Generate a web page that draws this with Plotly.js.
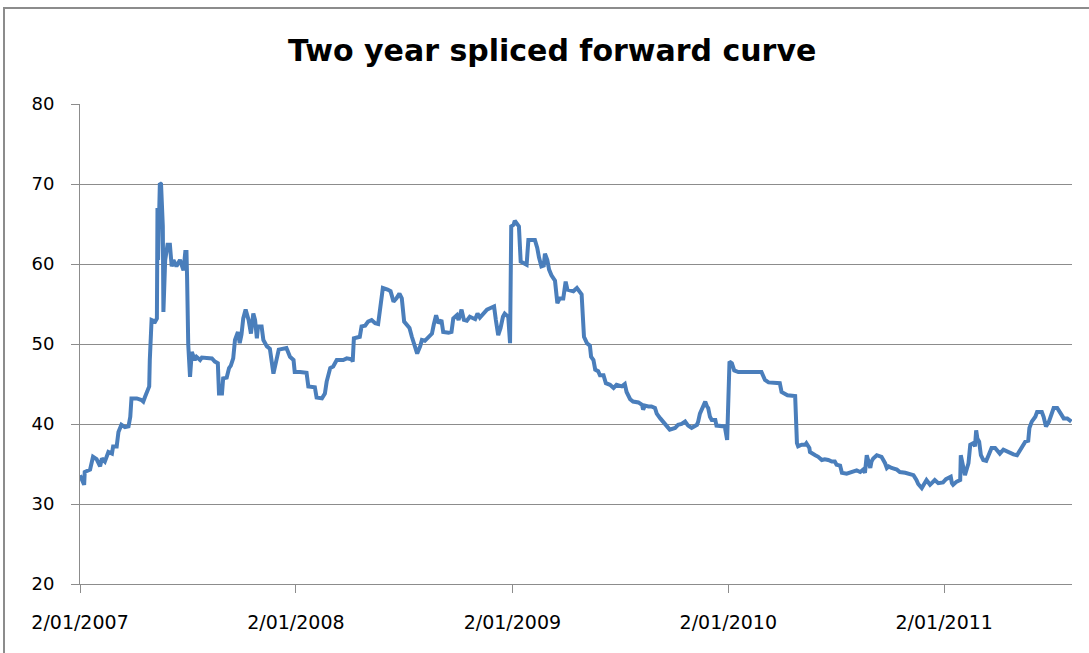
<!DOCTYPE html>
<html>
<head>
<meta charset="utf-8">
<script src="https://cdn.plot.ly/plotly-3.0.1.min.js"></script>
<style>
  html, body { margin: 0; padding: 0; background: #ffffff; }
  #wrap { position: relative; width: 1089px; height: 653px; overflow: hidden; }
  #frame { position: absolute; left: 3px; top: 7px; width: 1200px; height: 800px;
           border-left: 2px solid #8c8c8c; border-top: 2px solid #8c8c8c; pointer-events: none; }
  #chart { position: absolute; left: 0; top: 0; width: 1089px; height: 653px; }
</style>
</head>
<body>
<div id="wrap">
  <div id="chart"></div>
  <div id="frame"></div>
</div>
<script>
const dates = [
  "2007-01-02","2007-01-05","2007-01-09","2007-01-10","2007-01-19","2007-01-24","2007-01-30","2007-02-05","2007-02-08","2007-02-13",
  "2007-02-19","2007-02-25","2007-02-27","2007-03-05","2007-03-08","2007-03-13","2007-03-19","2007-03-25","2007-03-28","2007-03-30",
  "2007-04-08","2007-04-16","2007-04-19","2007-04-22","2007-04-26","2007-04-29","2007-04-30","2007-05-02","2007-05-03","2007-05-09",
  "2007-05-12","2007-05-13","2007-05-14","2007-05-17","2007-05-19","2007-05-22","2007-05-23","2007-05-26","2007-05-30","2007-06-03",
  "2007-06-06","2007-06-09","2007-06-14","2007-06-20","2007-06-23","2007-06-26","2007-06-29","2007-07-01","2007-07-02","2007-07-04",
  "2007-07-07","2007-07-10","2007-07-15","2007-07-18","2007-07-24","2007-07-27","2007-08-13","2007-08-18","2007-08-23","2007-08-25",
  "2007-08-30","2007-09-01","2007-09-07","2007-09-11","2007-09-14","2007-09-18","2007-09-21","2007-09-26","2007-09-29","2007-10-02",
  "2007-10-05","2007-10-09","2007-10-14","2007-10-18","2007-10-22","2007-10-25","2007-10-28","2007-10-30","2007-11-05","2007-11-08",
  "2007-11-14","2007-11-19","2007-11-25","2007-12-01","2007-12-04","2007-12-17","2007-12-23","2007-12-29","2007-12-31","2008-01-09",
  "2008-01-20","2008-01-23","2008-02-03","2008-02-06","2008-02-15","2008-02-20","2008-02-23","2008-02-29","2008-03-05","2008-03-11",
  "2008-03-22","2008-03-28","2008-04-05","2008-04-07","2008-04-09","2008-04-19","2008-04-22","2008-04-28","2008-05-03","2008-05-09",
  "2008-05-15","2008-05-20","2008-05-23","2008-05-28","2008-06-05","2008-06-10","2008-06-15","2008-06-20","2008-06-25","2008-06-29",
  "2008-07-03","2008-07-07","2008-07-12","2008-07-16","2008-07-21","2008-07-25","2008-07-30","2008-08-02","2008-08-07","2008-08-13",
  "2008-08-19","2008-08-22","2008-08-26","2008-08-30","2008-09-04","2008-09-07","2008-09-16","2008-09-21","2008-09-24","2008-09-30",
  "2008-10-03","2008-10-08","2008-10-12","2008-10-17","2008-10-22","2008-10-31","2008-11-04","2008-11-08","2008-11-13","2008-11-20",
  "2008-11-26","2008-12-02","2008-12-05","2008-12-09","2008-12-13","2008-12-17","2008-12-20","2008-12-26","2008-12-29","2008-12-31",
  "2009-01-04","2009-01-06","2009-01-13","2009-01-16","2009-01-26","2009-01-29","2009-02-09","2009-02-13","2009-02-16","2009-02-20",
  "2009-02-24","2009-02-26","2009-03-02","2009-03-05","2009-03-09","2009-03-13","2009-03-15","2009-03-19","2009-03-23","2009-03-29",
  "2009-04-02","2009-04-05","2009-04-15","2009-04-21","2009-04-26","2009-04-29","2009-05-03","2009-05-08","2009-05-13","2009-05-15",
  "2009-05-19","2009-05-22","2009-05-27","2009-05-30","2009-06-05","2009-06-09","2009-06-16","2009-06-22","2009-06-27","2009-07-06",
  "2009-07-11","2009-07-14","2009-07-20","2009-07-25","2009-08-03","2009-08-09","2009-08-11","2009-08-14","2009-08-20","2009-08-25",
  "2009-08-31","2009-09-03","2009-09-09","2009-09-14","2009-09-20","2009-09-25","2009-10-04","2009-10-09","2009-10-15","2009-10-21",
  "2009-10-26","2009-11-01","2009-11-10","2009-11-12","2009-11-15","2009-11-21","2009-11-24","2009-11-27","2009-11-29","2009-12-02",
  "2009-12-05","2009-12-11","2009-12-13","2009-12-27","2009-12-31","2010-01-04","2010-01-08","2010-01-12","2010-01-19","2010-02-27",
  "2010-03-05","2010-03-11","2010-03-30","2010-04-02","2010-04-08","2010-04-12","2010-04-25","2010-04-28","2010-04-30","2010-05-06",
  "2010-05-12","2010-05-14","2010-05-19","2010-05-20","2010-05-29","2010-06-03","2010-06-09","2010-06-14","2010-06-20","2010-06-26",
  "2010-07-01","2010-07-04","2010-07-10","2010-07-13","2010-07-21","2010-07-27","2010-08-01","2010-08-07","2010-08-13","2010-08-18",
  "2010-08-21","2010-08-24","2010-08-27","2010-08-30","2010-09-01","2010-09-04","2010-09-10","2010-09-18","2010-09-24","2010-09-27",
  "2010-09-30","2010-10-05","2010-10-14","2010-10-19","2010-10-28","2010-11-05","2010-11-11","2010-11-16","2010-11-19","2010-11-25",
  "2010-11-29","2010-12-03","2010-12-09","2010-12-15","2010-12-17","2010-12-23","2010-12-31","2011-01-05","2011-01-09","2011-01-13",
  "2011-01-15","2011-01-17","2011-01-23","2011-01-29","2011-01-30","2011-02-02","2011-02-06","2011-02-12","2011-02-15","2011-02-20",
  "2011-02-23","2011-02-25","2011-02-27","2011-03-02","2011-03-05","2011-03-09","2011-03-14","2011-03-18","2011-03-23","2011-03-29",
  "2011-04-04","2011-04-06","2011-04-12","2011-04-18","2011-04-23","2011-04-29","2011-05-05","2011-05-08","2011-05-13","2011-05-19",
  "2011-05-24","2011-05-26","2011-05-30","2011-06-05","2011-06-08","2011-06-16","2011-06-19","2011-06-23","2011-06-28","2011-07-02",
  "2011-07-06","2011-07-12","2011-07-15","2011-07-18","2011-07-23","2011-07-29","2011-08-05"
];
const values = [
  33.6,33.0,32.4,34.0,34.3,35.9,35.6,34.7,35.7,35.3,
  36.5,36.3,37.2,37.2,39.0,39.9,39.6,39.7,40.9,43.2,
  43.2,43.0,42.8,43.4,44.3,44.7,48.0,50.5,53.0,52.8,
  53.2,67.0,60.5,70.1,70.0,64.7,54.0,60.5,62.4,62.4,
  59.7,60.5,59.7,60.5,59.7,59.2,61.5,61.5,58.4,49.9,
  45.9,49.0,48.0,48.4,48.0,48.3,48.2,47.8,47.6,43.8,
  43.8,45.7,45.8,47.0,47.3,48.2,50.5,51.5,50.1,51.2,
  53.2,54.3,53.0,51.3,53.8,53.0,50.7,52.2,52.2,50.5,
  49.7,49.4,46.3,48.2,49.3,49.5,48.4,48.0,46.5,46.5,
  46.4,44.7,44.6,43.3,43.2,43.8,45.3,47.0,47.2,48.0,
  48.0,48.2,48.1,47.8,50.7,50.9,52.2,52.3,52.8,53.0,
  52.6,52.5,54.0,57.0,56.8,56.6,55.3,55.7,56.3,55.7,
  52.8,52.4,52.0,50.9,49.5,48.8,49.7,50.5,50.4,50.9,
  51.3,52.4,53.6,52.6,53.0,51.5,51.4,51.5,53.2,53.6,
  53.0,54.3,53.0,52.9,53.4,53.1,53.8,53.3,53.8,54.3,
  54.5,54.7,53.0,51.1,52.0,53.4,53.8,53.4,50.1,64.7,
  64.9,65.4,64.7,60.3,59.9,63.0,63.0,62.0,60.8,59.7,
  59.8,61.3,60.5,59.3,58.6,58.2,57.9,55.1,55.7,55.7,
  57.8,56.8,56.6,57.0,56.5,56.2,50.9,50.1,49.8,48.4,
  48.0,46.8,46.6,46.1,46.1,45.1,44.9,44.5,44.9,44.7,
  45.0,44.0,43.1,42.8,42.7,42.4,41.8,42.3,42.2,42.2,
  42.0,41.3,40.7,40.3,39.7,39.3,39.5,39.9,40.0,40.3,
  39.8,39.5,39.9,40.3,41.3,42.4,42.8,42.2,42.0,40.9,
  40.5,40.5,39.8,39.7,38.0,47.8,47.6,46.7,46.5,46.5,
  45.5,45.2,45.1,44.0,43.8,43.6,43.5,37.6,37.2,37.4,
  37.4,37.6,37.0,36.5,36.1,35.9,35.5,35.6,35.5,35.3,
  35.3,34.9,34.8,33.9,33.8,33.9,34.0,34.2,34.0,34.3,
  33.9,36.1,35.3,34.5,35.3,35.7,36.1,35.9,35.1,34.5,
  34.7,34.5,34.3,34.0,33.9,33.8,33.6,33.0,32.5,32.0,
  32.6,33.0,32.4,32.8,33.0,32.6,32.7,33.1,33.2,33.4,
  32.6,32.4,32.8,33.0,36.1,34.8,33.6,35.1,37.4,37.6,
  37.2,39.2,38.2,37.8,36.1,35.5,35.4,36.1,37.0,37.0,
  36.6,36.3,36.8,36.6,36.3,36.2,36.1,36.5,37.0,37.8,
  37.9,39.5,40.3,40.9,41.5,41.5,40.9,39.7,40.3,41.3,
  42.0,42.0,41.5,41.3,40.7,40.7,40.3
];
const tickDates = ["2007-01-02","2008-01-02","2009-01-02","2010-01-02","2011-01-02"];
const tickLabels = ["2/01/2007","2/01/2008","2/01/2009","2/01/2010","2/01/2011"];
const yTicks = [20,30,40,50,60,70,80];

const trace = {
  x: dates, y: values, type: 'scatter', mode: 'lines',
  line: { color: '#4a7ebb', width: 4 },
  hoverinfo: 'x+y'
};

const layout = {
  width: 1089, height: 653,
  margin: { l: 80, r: 17, t: 104, b: 69 },
  paper_bgcolor: 'rgba(0,0,0,0)', plot_bgcolor: '#ffffff',
  showlegend: false,
  font: { family: 'DejaVu Sans, sans-serif', color: '#000000' },
  title: {
    text: 'Two year spliced forward curve',
    font: { family: 'DejaVu Sans, sans-serif', size: 30, color: '#000000', weight: 'bold' },
    x: 0.476, xanchor: 'center', xref: 'paper',
    y: 0.922, yanchor: 'middle', yref: 'container'
  },
  xaxis: {
    type: 'date',
    range: ['2007-01-02', '2011-08-06'],
    tickmode: 'array', tickvals: tickDates, ticktext: tickLabels,
    ticks: 'outside', ticklen: 8, tickwidth: 1, tickcolor: '#8c8c8c',
    showline: true, linecolor: '#8c8c8c', linewidth: 1,
    showgrid: false, zeroline: false,
    tickfont: { size: 19, color: '#000000' },
    ticklabelstandoff: 13
  },
  yaxis: {
    range: [20, 80],
    tickmode: 'array', tickvals: yTicks,
    ticks: 'outside', ticklen: 8, tickwidth: 1, tickcolor: '#8c8c8c',
    showline: true, linecolor: '#8c8c8c', linewidth: 1,
    showgrid: true, gridcolor: '#8c8c8c', gridwidth: 1,
    zeroline: false,
    tickfont: { size: 18, color: '#000000' },
    ticklabelstandoff: 13
  }
};

Plotly.newPlot('chart', [trace], layout, { displayModeBar: false, staticPlot: true });
</script>
</body>
</html>
